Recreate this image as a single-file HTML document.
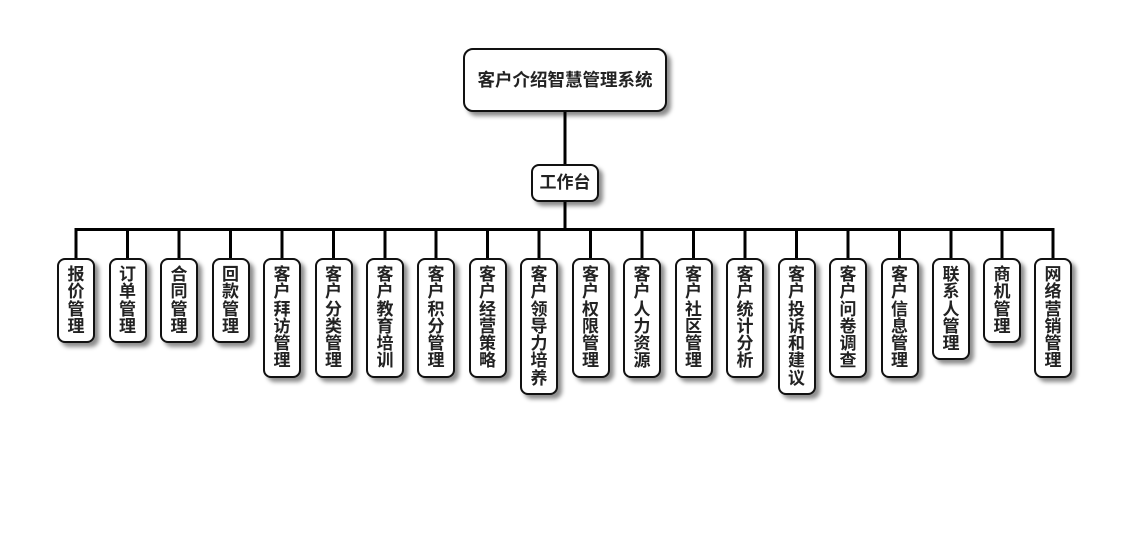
<!DOCTYPE html>
<html>
<head>
<meta charset="utf-8">
<style>
  html,body{margin:0;padding:0;background:#fff;}
  body{width:1130px;height:560px;position:relative;overflow:hidden;
       font-family:"Liberation Sans","Noto Sans CJK SC",sans-serif;font-weight:bold;color:#222;}
  .box{position:absolute;box-sizing:border-box;background:#fff;border:2px solid #111;
       box-shadow:4px 4px 4px rgba(0,0,0,0.45);}
  .root{left:463px;top:48px;width:204px;height:64px;border-radius:10px;
        font-size:17.5px;line-height:60px;text-align:center;}
  .mid{left:531px;top:164px;width:68px;height:38px;border-radius:8px;
       font-size:17px;line-height:34px;text-align:center;}
  .leaf{top:258px;width:38px;border-radius:8px;padding:6px 0;font-size:17px;
        line-height:17.3px;text-align:center;}
  .leaf span{display:block;width:18px;margin:0 auto;word-break:break-all;}
  svg{position:absolute;left:0;top:0;}
</style>
</head>
<body>
<svg width="1130" height="560">
  <g stroke="#000" stroke-width="3" fill="none">
    <line x1="565" y1="110" x2="565" y2="166"/>
    <line x1="565" y1="200" x2="565" y2="230"/>
    <line x1="74.5" y1="229.5" x2="1054.5" y2="229.5"/>
    <line x1="76" y1="229" x2="76" y2="260"/>
    <line x1="127.5" y1="229" x2="127.5" y2="260"/>
    <line x1="179" y1="229" x2="179" y2="260"/>
    <line x1="230.5" y1="229" x2="230.5" y2="260"/>
    <line x1="282" y1="229" x2="282" y2="260"/>
    <line x1="333.5" y1="229" x2="333.5" y2="260"/>
    <line x1="385" y1="229" x2="385" y2="260"/>
    <line x1="436" y1="229" x2="436" y2="260"/>
    <line x1="487.5" y1="229" x2="487.5" y2="260"/>
    <line x1="539" y1="229" x2="539" y2="260"/>
    <line x1="590.5" y1="229" x2="590.5" y2="260"/>
    <line x1="642" y1="229" x2="642" y2="260"/>
    <line x1="693.5" y1="229" x2="693.5" y2="260"/>
    <line x1="745" y1="229" x2="745" y2="260"/>
    <line x1="796.5" y1="229" x2="796.5" y2="260"/>
    <line x1="848" y1="229" x2="848" y2="260"/>
    <line x1="899.5" y1="229" x2="899.5" y2="260"/>
    <line x1="951" y1="229" x2="951" y2="260"/>
    <line x1="1002" y1="229" x2="1002" y2="260"/>
    <line x1="1053" y1="229" x2="1053" y2="260"/>
  </g>
</svg>

<div class="box root">客户介绍智慧管理系统</div>
<div class="box mid">工作台</div>

<div class="box leaf" style="left:57px;"><span>报价管理</span></div>
<div class="box leaf" style="left:108.5px;"><span>订单管理</span></div>
<div class="box leaf" style="left:160px;"><span>合同管理</span></div>
<div class="box leaf" style="left:211.5px;"><span>回款管理</span></div>
<div class="box leaf" style="left:263px;"><span>客户拜访管理</span></div>
<div class="box leaf" style="left:314.5px;"><span>客户分类管理</span></div>
<div class="box leaf" style="left:366px;"><span>客户教育培训</span></div>
<div class="box leaf" style="left:417px;"><span>客户积分管理</span></div>
<div class="box leaf" style="left:468.5px;"><span>客户经营策略</span></div>
<div class="box leaf" style="left:520px;"><span>客户领导力培养</span></div>
<div class="box leaf" style="left:571.5px;"><span>客户权限管理</span></div>
<div class="box leaf" style="left:623px;"><span>客户人力资源</span></div>
<div class="box leaf" style="left:674.5px;"><span>客户社区管理</span></div>
<div class="box leaf" style="left:726px;"><span>客户统计分析</span></div>
<div class="box leaf" style="left:777.5px;"><span>客户投诉和建议</span></div>
<div class="box leaf" style="left:829px;"><span>客户问卷调查</span></div>
<div class="box leaf" style="left:880.5px;"><span>客户信息管理</span></div>
<div class="box leaf" style="left:932px;"><span>联系人管理</span></div>
<div class="box leaf" style="left:983px;"><span>商机管理</span></div>
<div class="box leaf" style="left:1034px;"><span>网络营销管理</span></div>
</body>
</html>
